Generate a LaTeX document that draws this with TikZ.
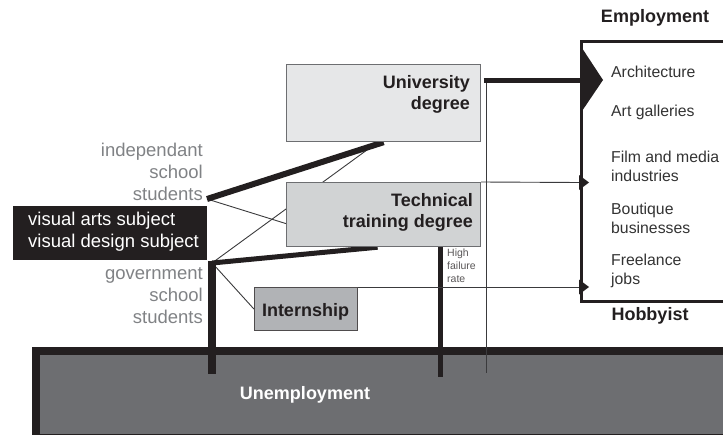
\documentclass[tikz,border=0pt]{standalone}
\usepackage{fontspec}
\setmainfont{Liberation Sans}
\pgfdeclarelayer{back}
\pgfdeclarelayer{lines}
\pgfsetlayers{back,lines,main}
\definecolor{dk}{HTML}{231F20}
\definecolor{bd}{HTML}{6D6E71}
\definecolor{ugray}{HTML}{6D6E71}
\definecolor{fillU}{HTML}{E6E7E8}
\definecolor{fillT}{HTML}{D1D3D4}
\definecolor{fillI}{HTML}{B1B3B6}
\definecolor{gtxt}{HTML}{808285}
\definecolor{itxt}{HTML}{333333}
\definecolor{ln}{HTML}{3A3A3C}
\begin{document}
\begin{tikzpicture}[x=1pt,y=-1pt,
  thickln/.style={line width=6pt, draw=dk},
  medln/.style={line width=5pt, draw=dk},
  thinln/.style={line width=0.9pt, draw=ln},
  degbox/.style={draw=bd, line width=1.2pt, fill=#1, inner sep=0pt, anchor=north west},
  boldtxt/.style={text=dk, font=\bfseries\fontsize{18}{21.5}\selectfont, inner sep=0pt},
  graytxt/.style={text=gtxt, font=\fontsize{18.5}{22}\selectfont, inner sep=0pt, align=right, anchor=east},
  itemtxt/.style={text=itxt, font=\fontsize{15.8}{19}\selectfont, inner sep=0pt, align=left, anchor=west},
  tip/.style={fill=dk, draw=none}
]
\useasboundingbox (0,0) rectangle (723,434);

% Unemployment
\begin{pgfonlayer}{back}
\node[draw=dk, line width=8pt, fill=ugray, minimum width=710pt, minimum height=87pt,
      anchor=north west, inner sep=0pt] (unemp) at (32,347) {};
\end{pgfonlayer}
\node[text=white, font=\bfseries\fontsize{18}{21}\selectfont, inner sep=0pt] (unemptxt) at (305,395) {Unemployment};

% Employment box
\node[draw=dk, line width=2.5pt, minimum width=170pt, minimum height=260pt,
      anchor=north west, inner sep=0pt] (emp) at (580,40) {};
\node[boldtxt] (emptitle) at (655,18) {Employment};
\node[boldtxt] (hobby) at (650,316) {Hobbyist};
\node[itemtxt] (arch) at (611,72) {Architecture};
\node[itemtxt] (gal) at (611,112) {Art galleries};
\node[itemtxt] (film) at (611,166.5) {Film and media\\industries};
\node[itemtxt] (bout) at (611,218.5) {Boutique\\businesses};
\node[itemtxt] (free) at (611,271) {Freelance\\jobs};

% Degree boxes
\node[degbox=fillU, minimum width=194pt, minimum height=77pt] (univ) at (286,64) {};
\node[boldtxt, align=right, anchor=east] (univtxt) at (470,94.5) {University\\degree};
\node[degbox=fillT, minimum width=194pt, minimum height=64pt] (tech) at (286,182) {};
\node[boldtxt, align=right, anchor=east] (techtxt) at (473,212.5) {Technical\\training degree};
\node[degbox=fillI, draw=dk!80, minimum width=103pt, minimum height=43pt] (intern) at (254,287) {};
\node[boldtxt] (interntxt) at (305.5,312) {Internship};

% Students
\node[graytxt] (indep) at (203,172) {independant\\school\\students};
\node[graytxt] (gov) at (203,295.5) {government\\school\\students};
\node[fill=dk, minimum width=194pt, minimum height=54pt, anchor=north west, inner sep=0pt] (vis) at (13,206) {};
\node[text=white, font=\fontsize{18.5}{22}\selectfont, align=left, anchor=west, inner sep=0pt] (vistxt) at (28,232) {visual arts subject\\visual design subject};

% High failure rate
\node[text=dk!75, font=\fontsize{10.5}{13}\selectfont, align=left, anchor=west, inner sep=0pt] (fail) at (447,266) {High\\failure\\rate};

% Connection points
\coordinate (pi) at (207,199);
\coordinate (pg) at (212,263);
\coordinate (pgend) at (212,374);
\coordinate (ftop) at (440,241);
\coordinate (fend) at (440,377);
\coordinate (br) at (486,80);
\coordinate (brend) at (486,373);
\coordinate (a1) at (580,80);
\coordinate (a2) at (580,182.5);
\coordinate (a3) at (580,287);

\begin{pgfonlayer}{lines}
\draw[thinln] (pg) -- ([xshift=-6pt]univ.south);
\draw[thinln] (pi) -- ([yshift=-9pt]tech.west);
\draw[thinln] ([xshift=2pt,yshift=-2pt]pg) -- (intern.west);
\draw[thickln] (pi) -- (univ.south);
\draw[medln] (pg) -- ([xshift=-6pt]tech.south);
\draw[line width=8pt, draw=dk] ([yshift=2pt]pg) -- (pgend);
\draw[line width=5pt, draw=dk] (ftop) -- (fend);
\draw[thinln] (br) -- (brend);
\draw[medln] ([xshift=-2.5pt]br) -- (a1);
\draw[thinln] (tech.north east) -- (a2);
\draw[thinln] (intern.north east) -- (a3);
\end{pgfonlayer}

% Arrow tips
\fill[tip] (580,45) -- (603,80) -- (580,114) -- cycle;
\fill[tip] (579,175) -- (589,182.5) -- (579,190) -- cycle;
\fill[tip] (579,279.5) -- (589,287) -- (579,294.5) -- cycle;
\end{tikzpicture}
\end{document}
